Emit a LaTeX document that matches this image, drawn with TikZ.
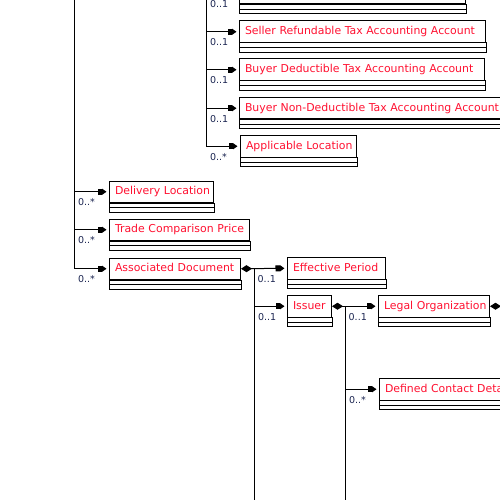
\documentclass[tikz,border=0pt]{standalone}
\usepackage{fontspec}
\setmainfont{DejaVu Sans}
\usetikzlibrary{arrows.meta,calc}
\definecolor{umlred}{HTML}{FF1030}
\definecolor{multcol}{HTML}{1A2450}

% element box: title cell plus two empty compartments underneath
\newcommand{\compartments}[1]{%
  \draw[boxline] (#1.south west) rectangle ([yshift=-9.2pt]#1.south east);
  \draw[boxline] ([yshift=-4.6pt]#1.south west) -- ([yshift=-4.6pt]#1.south east);
}

\begin{document}
\begin{tikzpicture}[x=1pt,y=-1pt,
  boxline/.style={line width=1pt},
  cls/.style={draw, line width=1pt, anchor=north west, minimum height=21.5pt,
    inner xsep=5.5pt, inner ysep=0pt, text=umlred, align=left,
    text width=#1, font=\fontsize{10.9}{13}\selectfont,
    text height=8.5pt, text depth=2.5pt},
  conn/.style={line width=1pt,
    -{Rectangle[length=4.5pt,width=6pt]Triangle[length=4.5pt,width=6pt]},
    shorten >=2.5pt},
  comp/.style={line width=1pt,
    {Diamond[length=11pt,width=7pt]}-{Rectangle[length=4.5pt,width=6pt]Triangle[length=4.5pt,width=6pt]},
    shorten >=2.5pt},
  trunk/.style={line width=1pt},
  mult/.style={text=multcol, font=\fontsize{9.5}{11}\selectfont, inner sep=0pt,
    anchor=west, xshift=3.5pt, yshift=-10.5pt},
]
\clip (0,0) rectangle (500,500);
\useasboundingbox (0,0) rectangle (500,500);

% trunk positions
\coordinate (ta) at (74,-30);
\coordinate (tb) at (206,-30);
\coordinate (tc) at (254,0);
\coordinate (td) at (345,0);

% boxes (text width = box width - 11pt; titles never wrap)
\node[cls=215pt] (top) at (239,-18) {};
\node[cls=235pt] (sr) at (239,20.5) {\mbox{Seller Refundable Tax Accounting Account}};
\node[cls=234pt] (bd) at (239,58.5) {\mbox{Buyer Deductible Tax Accounting Account}};
\node[cls=279pt] (bn) at (239,97) {\mbox{Buyer Non-Deductible Tax Accounting Account}};
\node[cls=105pt] (al) at (240,135) {\mbox{Applicable Location}};
\node[cls=93pt] (dl) at (109,180.5) {\mbox{Delivery Location}};
\node[cls=129pt] (tp) at (109,218.5) {\mbox{Trade Comparison Price}};
\node[cls=120pt] (ad) at (109,257.5) {\mbox{Associated Document}};
\node[cls=87pt] (ep) at (287,257) {\mbox{Effective Period}};
\node[cls=33pt] (is) at (287,295) {\mbox{Issuer}};
\node[cls=100pt] (lo) at (378,295) {\mbox{Legal Organization}};
\node[cls=159pt] (dc) at (379,378) {\mbox{Defined Contact Details}};

\foreach \b in {top,sr,bd,bn,al,dl,tp,ad,ep,is,lo,dc} {\compartments{\b}}

% upper trunk and its children
\draw[trunk] (tb) -- (tb |- al.west);
\draw[conn] (tb |- top.west) -- node[mult, pos=0] {0..1} (top.west);
\draw[conn] (tb |- sr.west) -- node[mult, pos=0] {0..1} (sr.west);
\draw[conn] (tb |- bd.west) -- node[mult, pos=0] {0..1} (bd.west);
\draw[conn] (tb |- bn.west) -- node[mult, pos=0] {0..1} (bn.west);
\draw[conn] (tb |- al.west) -- node[mult, pos=0] {0..*} (al.west);

% left trunk and its children
\draw[trunk] (ta) -- (ta |- ad.west);
\draw[conn] (ta |- dl.west) -- node[mult, pos=0] {0..*} (dl.west);
\draw[conn] (ta |- tp.west) -- node[mult, pos=0] {0..*} (tp.west);
\draw[conn] (ta |- ad.west) -- node[mult, pos=0] {0..*} (ad.west);

% Associated Document children
\draw[comp] (ad.east) -- (ep.west);
\node[mult] at (tc |- ep.west) {0..1};
\draw[trunk] (tc |- ad.east) -- ++(0,240);
\draw[conn] (tc |- is.west) -- node[mult, pos=0] {0..1} (is.west);

% Issuer children
\draw[comp] (is.east) -- (lo.west);
\node[mult] at (td |- lo.west) {0..1};
\draw[trunk] (td |- is.east) -- ++(0,200);
\draw[conn] (td |- dc.west) -- node[mult, pos=0] {0..*} (dc.west);

% Legal Organization composition continues to the right
\coordinate (loe) at ($(lo.east)+(30,0)$);
\draw[line width=1pt, {Diamond[length=11pt,width=7pt]}-] (lo.east) -- (loe);
\end{tikzpicture}
\end{document}
